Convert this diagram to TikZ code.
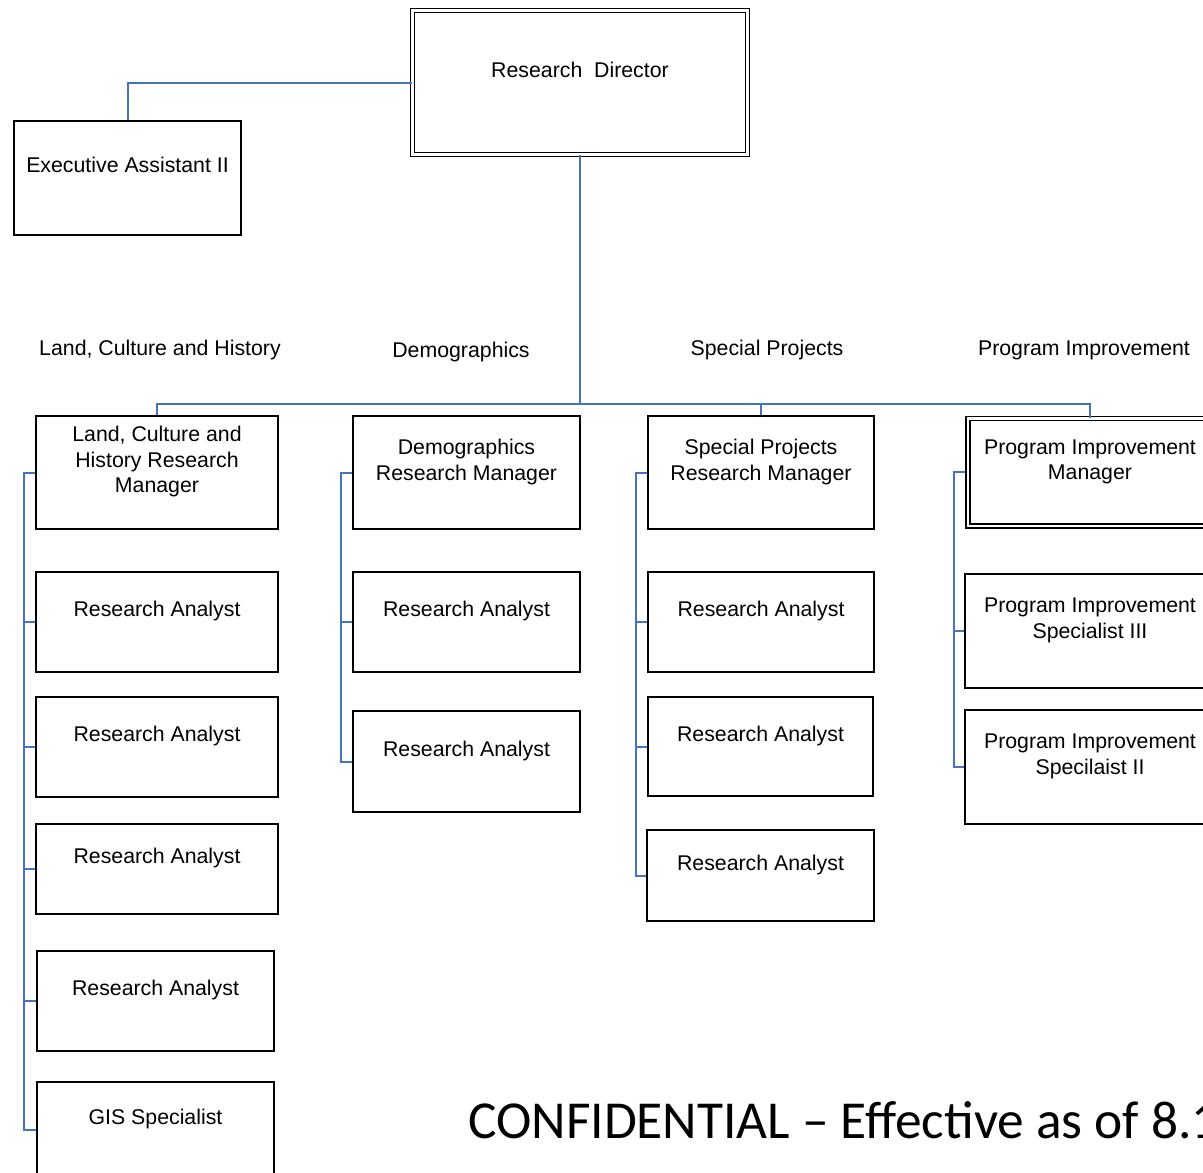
\documentclass[tikz,border=0pt]{standalone}
\usepackage{fontspec}
\setmainfont{Liberation Sans}
\newfontfamily\calib{Carlito}
\definecolor{connblue}{RGB}{70,114,196}
\tikzset{
  box/.style={draw=black, line width=1.5pt, rectangle, inner sep=0pt, align=center,
    font=\fontsize{21.3}{25.5}\selectfont},
  dbox/.style={box, double, double distance=2.5pt},
  conn/.style={draw=connblue, line width=2pt},
  sect/.style={font=\fontsize{21.3}{25.5}\selectfont, inner sep=0pt}
}
\begin{document}
\begin{tikzpicture}[x=1pt,y=-1pt]
\useasboundingbox (0,0) rectangle (1203,1173);
\clip (0,0) rectangle (1203,1173);
% top
\node[dbox, minimum width=335pt, minimum height=144pt] (dir) at (580,82.5) {Research~ Director\\\mbox{}};
\node[box, minimum width=227pt, minimum height=114pt] (exec) at (127.5,178) {Executive Assistant II\\\mbox{}};
% section labels
\node[sect] (l1) at (160,350) {Land, Culture and History};
\node[sect] (l2) at (461,352) {Demographics};
\node[sect] (l3) at (767,350) {Special Projects};
\node[sect] (l4) at (1084,350) {Program Improvement};
% Land, Culture and History
\node[box, minimum width=242pt, minimum height=113pt] (lch) at (157,472.5) {Land, Culture and\\History Research\\Manager\\\mbox{}};
\node[box, minimum width=242pt, minimum height=100pt] (lra1) at (157,622) {Research Analyst\\\mbox{}};
\node[box, minimum width=242pt, minimum height=100pt] (lra2) at (157,747) {Research Analyst\\\mbox{}};
\node[box, minimum width=242pt, minimum height=90pt] (lra3) at (157,869) {Research Analyst\\\mbox{}};
\node[box, minimum width=237pt, minimum height=100pt] (lra4) at (155.5,1001) {Research Analyst\\\mbox{}};
\node[box, minimum width=237pt, minimum height=96pt] (gis) at (155.5,1130) {GIS Specialist\\\mbox{}};
% Demographics
\node[box, minimum width=227pt, minimum height=113pt] (dm) at (466.5,472.5) {Demographics\\Research Manager\\\mbox{}};
\node[box, minimum width=227pt, minimum height=100pt] (dra1) at (466.5,622) {Research Analyst\\\mbox{}};
\node[box, minimum width=227pt, minimum height=101pt] (dra2) at (466.5,761.5) {Research Analyst\\\mbox{}};
% Special Projects
\node[box, minimum width=226pt, minimum height=113pt] (sm) at (761,472.5) {Special Projects\\Research Manager\\\mbox{}};
\node[box, minimum width=226pt, minimum height=100pt] (sra1) at (761,622) {Research Analyst\\\mbox{}};
\node[box, minimum width=225pt, minimum height=99pt] (sra2) at (760.5,746.5) {Research Analyst\\\mbox{}};
\node[box, minimum width=227pt, minimum height=91pt] (sra3) at (760.5,875.5) {Research Analyst\\\mbox{}};
% Program Improvement
\node[dbox, minimum width=244pt, minimum height=107.5pt] (pm) at (1090,472.25) {Program Improvement\\Manager\\\mbox{}};
\node[box, minimum width=250pt, minimum height=114pt] (ps3) at (1090,631) {Program Improvement\\Specialist III\\\mbox{}};
\node[box, minimum width=250pt, minimum height=114pt] (ps2) at (1090,767) {Program Improvement\\Specilaist II\\\mbox{}};
% connectors
\coordinate (bus) at (580,404);
\draw[conn] (dir.west) -| (exec.north);
\draw[conn] (dir.south) -- (bus);
\draw[conn] (lch.north) |- (bus) -| (pm.north);
\draw[conn] (bus) -| (sm.north);
% left group
\draw[conn] (lch.west) -- ++(-11,0) |- (gis.west);
\foreach \n in {lra1,lra2,lra3,lra4} \draw[conn] (\n.west) -- ++(-11,0);
% demographics group
\draw[conn] (dm.west) -- ++(-11,0) |- (dra2.west);
\draw[conn] (dra1.west) -- ++(-11,0);
% special projects group
\draw[conn] (sm.west) -- ++(-11,0) |- (sra3.west);
\foreach \n in {sra1,sra2} \draw[conn] (\n.west) -- ++(-11,0);
% program improvement group
\draw[conn] (pm.west) ++(-2,0) -- ++(-11,0) |- (ps2.west);
\draw[conn] (ps3.west) -- ++(-11,0);
% confidential
\node[anchor=base west, inner sep=0pt, font=\calib\fontsize{53.4}{60}\selectfont] (conf) at (468,1138) {CONFIDENTIAL – Effective as of 8.1};
\end{tikzpicture}
\end{document}
